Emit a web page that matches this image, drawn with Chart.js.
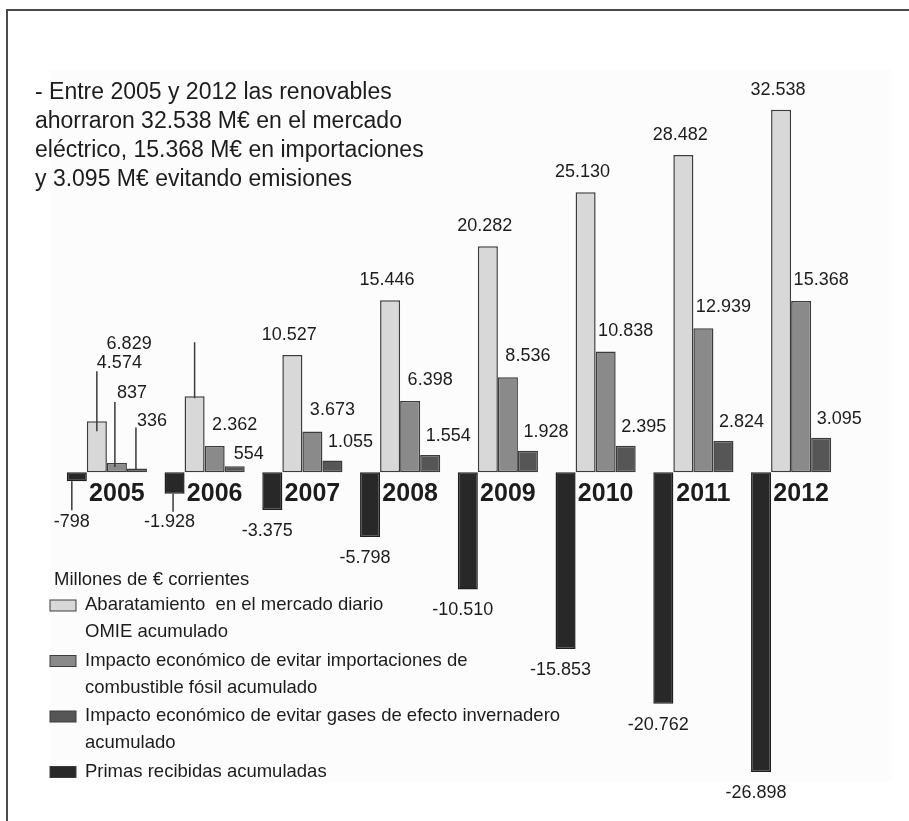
<!DOCTYPE html>
<html>
<head>
<meta charset="utf-8">
<script src="https://cdn.jsdelivr.net/npm/chart.js@4/dist/chart.umd.min.js"></script>
<style>
  html, body { margin: 0; padding: 0; background: #ffffff; }
  #wrap { position: relative; width: 909px; height: 821px; }
  canvas { display: block; }
</style>
</head>
<body>
<div id="wrap"><canvas id="chart" width="909" height="821"></canvas></div>
<script>
// ---- data (millones de euros corrientes, acumulados) ----
const years = ['2005', '2006', '2007', '2008', '2009', '2010', '2011', '2012'];
const primas = [-798, -1928, -3375, -5798, -10510, -15853, -20762, -26898];
const abaratamientoOmie = [4574, 6829, 10527, 15446, 20282, 25130, 28482, 32538];
const importacionesEvitadas = [837, 2362, 3673, 6398, 8536, 10838, 12939, 15368];
const emisionesEvitadas = [336, 554, 1055, 1554, 1928, 2395, 2824, 3095];

const titleLines = [
  '- Entre 2005 y 2012 las renovables',
  'ahorraron 32.538 M€ en el mercado',
  'eléctrico, 15.368 M€ en importaciones',
  'y 3.095 M€ evitando emisiones'
];
const unitsLabel = 'Millones de € corrientes';
const legendNames = [
  ['Abaratamiento  en el mercado diario', 'OMIE acumulado'],
  ['Impacto económico de evitar importaciones de', 'combustible fósil acumulado'],
  ['Impacto económico de evitar gases de efecto invernadero', 'acumulado'],
  ['Primas recibidas acumuladas']
];

// ---- styling ----
const FONT = '"Liberation Sans", Arial, Helvetica, sans-serif';
const TEXT = '#1c1c1c';
const colors = { primas: '#282828', omie: '#d8d8d8', imp: '#8a8a8a', gei: '#565656' };
const edge = '#3c3c3c';

// Spanish thousands separator
const fmt = v => (v < 0 ? '-' : '') + String(Math.abs(v)).replace(/\B(?=(\d{3})+(?!\d))/g, '.');

// Value label placement relative to the bar end (px). Default per series,
// with callouts (leader lines) for the short bars of the first years.
const labelDefaults = [
  { dx: -5, dy: 21 },   // primas (below the bar)
  { dx: -3, dy: -20 },  // OMIE
  { dx: 20, dy: -21 },  // importaciones
  { dx: 18, dy: -19 }   // emisiones
];
const labelOverrides = {
  '0-0': { dx: -5, dy: 41, leader: { dx: -5, from: 0, to: 29 } },
  '0-1': { dx: -5, dy: 28, leader: { dx: -1.5, from: 0, to: 18 } },
  '1-0': { dx: 0, dy: -58, align: 'left', leader: { dx: 0, from: -50, to: 10 } },
  '1-1': { dx: -88, dy: -52, align: 'left', leader: { dx: 0, from: -54, to: 2 } },
  '2-0': { dx: 0, dy: -70, align: 'left', leader: { dx: -2, from: -61, to: 4 } },
  '3-0': { dx: 0, dy: -48, align: 'left', leader: { dx: -1, from: -41, to: 1 } },
  '3-1': { dx: 14, dy: -12 }
};

const frameAndText = {
  id: 'frameAndText',
  beforeDraw(chart) {
    const ctx = chart.ctx;
    ctx.save();
    ctx.fillStyle = '#ffffff';
    ctx.fillRect(0, 0, chart.width, chart.height);
    ctx.fillStyle = '#fcfcfc';
    ctx.fillRect(50, 70, 842, 712);
    ctx.strokeStyle = '#4a4a4a';
    ctx.lineWidth = 2;
    ctx.beginPath();
    ctx.moveTo(7, chart.height);
    ctx.lineTo(7, 10);
    ctx.lineTo(chart.width, 10);
    ctx.stroke();

    // headline
    ctx.fillStyle = TEXT;
    ctx.font = '23px ' + FONT;
    ctx.textAlign = 'left';
    ctx.textBaseline = 'middle';
    titleLines.forEach((t, i) => ctx.fillText(t, 35, 93 + i * 29));

    // legend
    ctx.font = '18.5px ' + FONT;
    ctx.fillText(unitsLabel, 54, 580);
    const fills = [colors.omie, colors.imp, colors.gei, colors.primas];
    legendNames.forEach((lines, i) => {
      const y0 = 605 + i * 55.5;
      ctx.fillStyle = fills[i];
      ctx.fillRect(50, y0 - 5, 26, 11);
      ctx.strokeStyle = edge;
      ctx.lineWidth = 1;
      ctx.strokeRect(50, y0 - 5, 26, 11);
      ctx.fillStyle = TEXT;
      lines.forEach((t, k) => ctx.fillText(t, 85, y0 + k * 27));
    });
    ctx.restore();
  },
  afterDatasetsDraw(chart) {
    const ctx = chart.ctx;
    const yScale = chart.scales.y;
    const zero = yScale.getPixelForValue(0);
    ctx.save();
    ctx.fillStyle = TEXT;
    ctx.strokeStyle = '#3a3a3a';
    ctx.lineWidth = 1.5;
    ctx.textBaseline = 'middle';
    ctx.font = '18px ' + FONT;
    chart.data.datasets.forEach((ds, d) => {
      const meta = chart.getDatasetMeta(d);
      meta.data.forEach((bar, j) => {
        const spec = Object.assign({}, labelDefaults[d], labelOverrides[d + '-' + j] || {});
        const x = bar.x, y = bar.y;
        if (spec.leader) {
          ctx.beginPath();
          ctx.moveTo(x + spec.leader.dx, y + spec.leader.from);
          ctx.lineTo(x + spec.leader.dx, y + spec.leader.to);
          ctx.stroke();
        }
        ctx.textAlign = spec.align || 'center';
        ctx.fillText(fmt(ds.data[j]), x + spec.dx, y + spec.dy);
      });
    });
    // year labels under the positive bars
    ctx.font = 'bold 25px ' + FONT;
    ctx.textAlign = 'center';
    const m1 = chart.getDatasetMeta(1), m3 = chart.getDatasetMeta(3);
    years.forEach((yr, j) => {
      const cx = (m1.data[j].x + m3.data[j].x) / 2;
      ctx.fillText(yr, cx, zero + 22);
    });
    ctx.restore();
  }
};

const common = { barPercentage: 1, categoryPercentage: 0.82, borderWidth: 1.5, borderSkipped: false, borderColor: edge };

new Chart(document.getElementById('chart'), {
  type: 'bar',
  data: {
    labels: years,
    datasets: [
      Object.assign({ label: legendNames[3].join(' '), data: primas, backgroundColor: colors.primas }, common, { borderColor: '#1e1e1e' }),
      Object.assign({ label: legendNames[0].join(' '), data: abaratamientoOmie, backgroundColor: colors.omie }, common),
      Object.assign({ label: legendNames[1].join(' '), data: importacionesEvitadas, backgroundColor: colors.imp }, common),
      Object.assign({ label: legendNames[2].join(' '), data: emisionesEvitadas, backgroundColor: colors.gei }, common)
    ]
  },
  options: {
    responsive: false,
    devicePixelRatio: 1,
    animation: false,
    layout: { padding: { left: 58, right: 69, top: 60, bottom: 21 } },
    plugins: { legend: { display: false }, tooltip: { enabled: false }, title: { display: false } },
    scales: {
      x: { display: false, offset: true, grid: { display: false } },
      y: { display: false, min: -29400, max: 37000, grid: { display: false } }
    }
  },
  plugins: [frameAndText]
});
</script>
</body>
</html>
